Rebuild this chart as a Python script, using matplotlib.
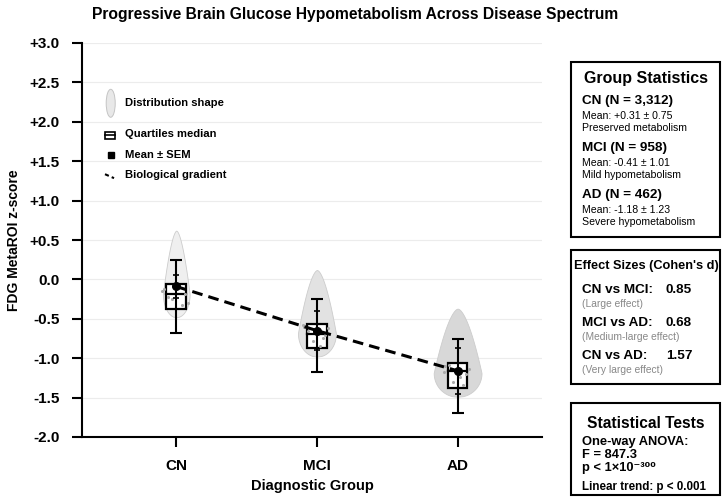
import matplotlib
matplotlib.use('Agg')
import matplotlib.pyplot as plt
from matplotlib.patches import Rectangle, Ellipse
import numpy as np

plt.rcParams['font.family'] = ['Liberation Sans', 'DejaVu Sans']

groups = ['CN', 'MCI', 'AD']
violin_top = [0.62, 0.12, -0.37]
violin_bottom = [-0.48, -0.98, -1.49]
violin_half = [0.095, 0.135, 0.17]
violin_fill = ['#efefef', '#e2e2e2', '#d8d8d8']
q1 = [-0.37, -0.87, -1.38]
median = [-0.19, -0.69, -1.16]
q3 = [-0.06, -0.56, -1.06]
whisk_lo = [-0.68, -1.18, -1.69]
whisk_hi = [0.25, -0.25, -0.75]
means = [-0.09, -0.65, -1.16]
sem = [0.14, 0.25, 0.29]

# a few faint individual points inside each box (value, x offset)
pts_y = [[-0.12, -0.18, -0.25, -0.3, -0.1, -0.22, -0.33, -0.15],
         [-0.6, -0.7, -0.78, -0.62, -0.84, -0.66, -0.74, -0.58],
         [-1.1, -1.2, -1.3, -1.14, -1.24, -1.08, -1.34, -1.18]]
pts_dx = [-0.09, 0.06, -0.03, 0.08, 0.02, -0.06, 0.04, -0.1]

yticks = [3.0, 2.5, 2.0, 1.5, 1.0, 0.5, 0.0, -0.5, -1.0, -1.5, -2.0]
ytick_labels = ['+3.0', '+2.5', '+2.0', '+1.5', '+1.0', '+0.5', '0.0',
                '-0.5', '-1.0', '-1.5', '-2.0']

W, H = 725, 497


def fx(px):
    return px / W


def fy(py):
    return 1 - py / H


def teardrop(bot, top, n=150, s0=0.27, p=0.6):
    s = np.linspace(0, 1, n)
    w = np.where(s < s0,
                 np.sqrt(np.clip(1 - ((s0 - s) / s0) ** 2, 0, 1)),
                 np.clip((1 - s) / (1 - s0), 0, 1) ** p)
    return bot + s * (top - bot), w


fig = plt.figure(figsize=(7.25, 4.97), dpi=100)
ax = fig.add_axes([fx(82), fy(437), fx(542) - fx(82), fy(43) - fy(437)])

x = np.arange(len(groups))
for i in x:
    yy, ww = teardrop(violin_bottom[i], violin_top[i])
    ax.fill_betweenx(yy, i - ww * violin_half[i], i + ww * violin_half[i],
                     facecolor=violin_fill[i], edgecolor='#cccccc', lw=0.6, zorder=2)
    ax.add_patch(Rectangle((i - 0.07, q1[i]), 0.14, q3[i] - q1[i],
                           facecolor='white', edgecolor='black', lw=1.6, zorder=3))
    ax.plot([i - 0.07, i + 0.07], [median[i], median[i]], color='black', lw=1.6, zorder=4)
    ax.scatter(i + np.array(pts_dx), pts_y[i], s=1.5, color='#aaaaaa', zorder=4)
    ax.errorbar(i, median[i], yerr=[[median[i] - whisk_lo[i]], [whisk_hi[i] - median[i]]],
                fmt='none', ecolor='black', elinewidth=1.5, capsize=4, capthick=1.5, zorder=5)

ax.plot(x, means, color='black', lw=2.2, ls=(0, (3.5, 2)), zorder=6)
ax.errorbar(x, means, yerr=sem, fmt='o', color='black', ms=5.5, elinewidth=1.2,
            capsize=2, capthick=1.2, zorder=7)

ax.set_xlim(-0.67, 2.6)
ax.set_ylim(-2.0, 3.0)
ax.set_xticks(x)
ax.set_xticklabels(groups, fontsize=11, fontweight='bold')
ax.set_yticks(yticks)
ax.set_yticklabels(ytick_labels, fontsize=11, fontweight='bold')
ax.tick_params(length=7.2, width=1.5, pad=9)
ax.grid(axis='y', color='#ececec', lw=0.8)
ax.set_axisbelow(True)
for sp in ['top', 'right']:
    ax.spines[sp].set_visible(False)
for sp in ['left', 'bottom']:
    ax.spines[sp].set_linewidth(1.5)
ax.set_xlabel('Diagnostic Group', fontsize=10.5, fontweight='bold', labelpad=4)
ax.set_ylabel('FDG MetaROI z-score', fontsize=10, fontweight='bold', labelpad=6)

# hand-drawn legend in axes fraction
ax.add_patch(Ellipse((0.0624, 0.847), 0.0196, 0.071, transform=ax.transAxes,
                     facecolor='#e8e8e8', edgecolor='#c4c4c4', lw=0.7))
ax.add_patch(Rectangle((0.050, 0.7556), 0.0217, 0.0194, transform=ax.transAxes,
                       facecolor='white', edgecolor='black', lw=1.2))
ax.plot([0.050, 0.0717], [0.7655, 0.7655], transform=ax.transAxes, color='black', lw=1.2)
ax.plot([0.0626], [0.716], transform=ax.transAxes, marker='s', color='black', ms=4)
ax.plot([0.050, 0.0696], [0.667, 0.657], transform=ax.transAxes, color='black',
        lw=1.5, ls=(0, (2, 1.5)))
leg_txt = [('Distribution shape', 0.847), ('Quartiles median', 0.768),
           ('Mean ± SEM', 0.716), ('Biological gradient', 0.665)]
for t, yv in leg_txt:
    ax.text(0.0935, yv, t, transform=ax.transAxes, fontsize=8.1, fontweight='bold',
            va='center')

fig.text(fx(355), fy(14), 'Progressive Brain Glucose Hypometabolism Across Disease Spectrum',
         ha='center', va='center', fontsize=11.25, fontweight='bold')

# right side panels
for top, bot in [(62, 237), (250, 384), (403, 495)]:
    fig.add_artist(Rectangle((fx(571), fy(bot)), fx(720) - fx(571), fy(top) - fy(bot),
                             transform=fig.transFigure, fill=False, edgecolor='black', lw=1.5))

tx = fx(582)
fig.text(fx(646), fy(79), 'Group Statistics', ha='center', va='center', fontsize=11.5, fontweight='bold')
stats = [('CN (N = 3,312)', 'Mean: +0.31 ± 0.75', 'Preserved metabolism', 101),
         ('MCI (N = 958)', 'Mean: -0.41 ± 1.01', 'Mild hypometabolism', 148),
         ('AD (N = 462)', 'Mean: -1.18 ± 1.23', 'Severe hypometabolism', 195)]
for head, m, desc, yp in stats:
    fig.text(tx, fy(yp), head, va='center', fontsize=9.7, fontweight='bold')
    fig.text(tx, fy(yp + 15), m, va='center', fontsize=7.6)
    fig.text(tx, fy(yp + 27), desc, va='center', fontsize=7.6)

fig.text(fx(646), fy(266), "Effect Sizes (Cohen's d)", ha='center', va='center',
         fontsize=9.2, fontweight='bold')
effects = [('CN vs MCI:', '0.85', '(Large effect)', 290),
           ('MCI vs AD:', '0.68', '(Medium-large effect)', 323),
           ('CN vs AD:', '1.57', '(Very large effect)', 356)]
for lab, v, desc, yp in effects:
    fig.text(tx, fy(yp), lab, va='center', fontsize=9.7, fontweight='bold')
    fig.text(fx(666), fy(yp), v, va='center', fontsize=9.7, fontweight='bold')
    fig.text(tx, fy(yp + 14), desc, va='center', fontsize=7.4, color='#888888')

fig.text(fx(646), fy(424), 'Statistical Tests', ha='center', va='center', fontsize=11.2, fontweight='bold')
fig.text(tx, fy(442), 'One-way ANOVA:', va='center', fontsize=9.3, fontweight='bold')
fig.text(tx, fy(455), 'F = 847.3', va='center', fontsize=9.3, fontweight='bold')
fig.text(tx, fy(468), 'p < 1×10⁻³⁰⁰', va='center', fontsize=9.3, fontweight='bold')
fig.text(tx, fy(487), 'Linear trend: p < 0.001', va='center', fontsize=8.4, fontweight='bold')

fig.savefig('out.png', dpi=100)
